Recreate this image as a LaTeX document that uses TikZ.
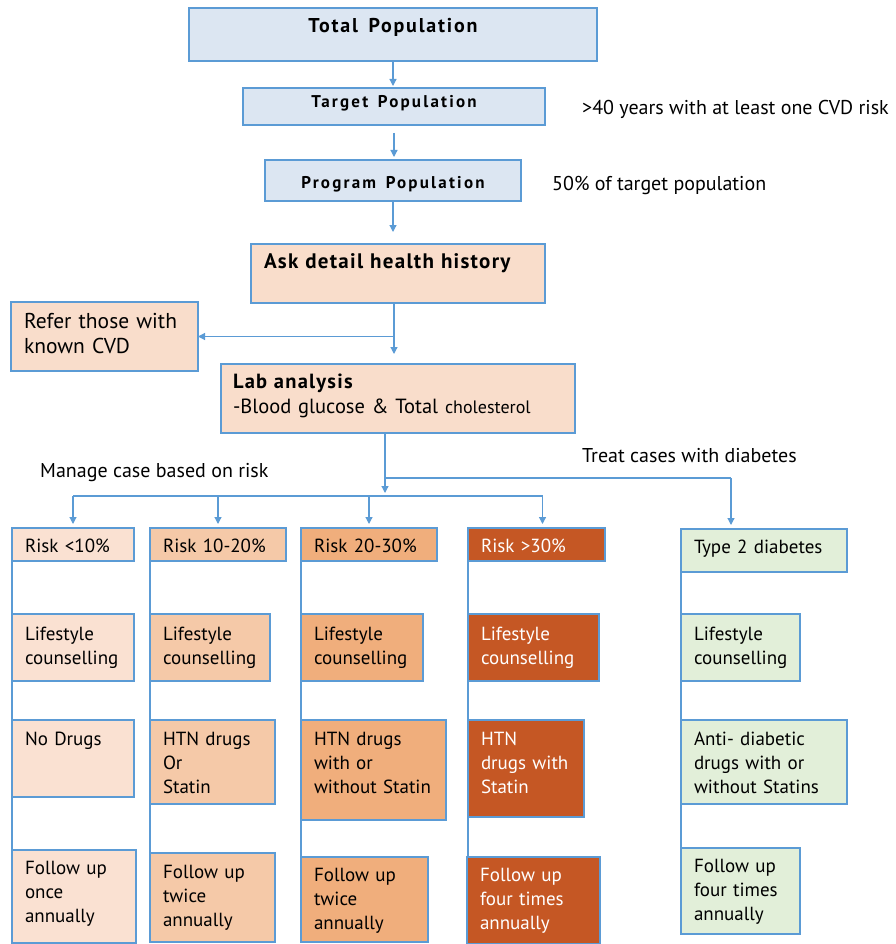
\documentclass[tikz,border=0pt]{standalone}
\usepackage{fontspec}
\setmainfont{PT Sans}
\usetikzlibrary{arrows.meta}

\definecolor{lineblue}{RGB}{91,155,213}
\definecolor{topblue}{RGB}{220,230,242}
\definecolor{peach}{RGB}{249,221,203}
\definecolor{lowrisk}{RGB}{250,225,210}
\definecolor{midrisk}{RGB}{245,201,168}
\definecolor{highrisk}{RGB}{240,174,124}
\definecolor{toprisk}{RGB}{197,87,36}
\definecolor{diabgreen}{RGB}{226,239,217}

\tikzset{
  box/.style={draw=lineblue, line width=1.2pt, anchor=north west, align=left,
    inner xsep=13pt, inner ysep=0pt, outer sep=0pt, text height=25pt,
    font=\fontsize{19}{24}\selectfont},
  head/.style={box, align=center, fill=topblue,
    font=\bfseries\fontsize{20}{22}\selectfont\addfontfeatures{LetterSpace=9}},
  smallhead/.style={head,
    font=\bfseries\fontsize{17}{20}\selectfont\addfontfeatures{LetterSpace=13}},
  line/.style={draw=lineblue, line width=1.2pt},
  arr/.style={line, -{Triangle[length=7pt,width=7pt]}},
  note/.style={anchor=base west, inner sep=0pt, font=\fontsize{20}{24}\selectfont},
}

\begin{document}
\begin{tikzpicture}[x=1pt, y=-1pt]
  \useasboundingbox (0,0) rectangle (895,944);

  % Populationen
  \node[head, text width=382pt, text height=25pt, text depth=28pt] (total) at (189,8) {Total\hspace{4pt} Population};
  \node[smallhead, text width=276pt, text height=20pt, text depth=17pt] (target) at (243,88) {Target\hspace{4pt} Population};
  \node[smallhead, text width=230pt, text height=29pt, text depth=12pt] (program) at (265,160) {Program\hspace{4pt} Population};
  \node[note] (agenote) at (582,115) {>40 years with at least one CVD risk};
  \node[note] (sharenote) at (552,190) {50\% of target population};

  % Anamnese und Labor
  \node[box, fill=peach, font=\bfseries\fontsize{21}{24}\selectfont\addfontfeatures{LetterSpace=6}, text width=268pt, text height=24pt, text depth=35pt] (ask) at (251,244) {Ask detail health history};
  \node[box, fill=peach, font=\fontsize{21.5}{25}\selectfont, text width=161pt, text height=26pt, text depth=43pt] (refer) at (11,302) {Refer those with\\known CVD};
  \node[box, fill=peach, font=\fontsize{20.5}{25}\selectfont, inner xsep=12pt, text width=330pt, text height=24pt, text depth=45pt] (lab) at (221,364)
    {{\bfseries\addfontfeatures{LetterSpace=6}Lab analysis}\\-Blood glucose \& Total {\fontsize{18}{25}\selectfont cholesterol}};
  \node[note] (treatnote) at (582,462) {Treat cases with diabetes};
  \node[note] (managenote) at (40,477) {Manage case based on risk};

  % Risikogruppen
  \node[box, fill=lowrisk, text width=96pt, text height=24pt, text depth=9pt] (r1) at (12,528) {Risk <10\%};
  \node[box, fill=midrisk, text width=110pt, text height=24pt, text depth=9pt] (r2) at (150,528) {Risk 10-20\%};
  \node[box, fill=highrisk, text width=110pt, text height=24pt, text depth=9pt] (r3) at (301,528) {Risk 20-30\%};
  \node[box, fill=toprisk, text=white, text width=111pt, text height=24pt, text depth=9pt] (r4) at (468,528) {Risk >30\%};
  \node[box, fill=diabgreen, text width=140pt, text height=24pt, text depth=19pt] (t2) at (681,529) {Type 2 diabetes};

  % Lebensstil
  \node[box, fill=lowrisk, text width=96pt, text height=26pt, text depth=41pt] (l1) at (12,614) {Lifestyle\\counselling};
  \node[box, fill=midrisk, text width=94pt, text height=26pt, text depth=41pt] (l2) at (150,614) {Lifestyle\\counselling};
  \node[box, fill=highrisk, text width=96pt, text height=26pt, text depth=41pt] (l3) at (301,614) {Lifestyle\\counselling};
  \node[box, fill=toprisk, text=white, text width=105pt, text height=26pt, text depth=41pt] (l4) at (468,614) {Lifestyle\\counselling};
  \node[box, fill=diabgreen, text width=93pt, text height=26pt, text depth=41pt] (l5) at (681,614) {Lifestyle\\counselling};

  % Medikamente
  \node[box, fill=lowrisk, text width=96pt, text depth=52pt] (d1) at (12,720) {No Drugs};
  \node[box, fill=midrisk, text width=99pt, text depth=59pt] (d2) at (150,720) {HTN drugs\\Or\\Statin};
  \node[box, fill=highrisk, text width=119pt, text depth=75pt] (d3) at (301,720) {HTN drugs\\with or\\without Statin};
  \node[box, fill=toprisk, text=white, text width=90pt, text depth=72pt] (d4) at (468,720) {HTN\\drugs with\\Statin};
  \node[box, fill=diabgreen, text width=140pt, text depth=59pt] (d5) at (681,720) {Anti- diabetic\\drugs with or\\without Statins};

  % Kontrollen
  \node[box, fill=lowrisk, text width=98pt, text height=24pt, text depth=69pt] (f1) at (12,850) {Follow up\\once\\annually};
  \node[box, fill=midrisk, text width=99pt, text height=25pt, text depth=64pt] (f2) at (150,853) {Follow up\\twice\\annually};
  \node[box, fill=highrisk, text width=101pt, text height=24pt, text depth=61pt] (f3) at (301,857) {Follow up\\twice\\annually};
  \node[box, fill=toprisk, text=white, text width=107pt, text height=24pt, text depth=63pt] (f4) at (467,857) {Follow up\\four times\\annually};
  \node[box, fill=diabgreen, text width=93pt, text height=24pt, text depth=62pt] (f5) at (681,848) {Follow up\\four times\\annually};

  % Pfeile oben
  \draw[arr, shorten >=2pt] (total.south) -- (total.south |- target.north);
  \draw[arr, shorten <=8pt, shorten >=3pt] (target.south) -- (target.south |- program.north);
  \draw[arr, shorten >=12pt] (program.south) -- (program.south |- ask.north);

  % Verweis und Labor
  \coordinate (askturn) at ([xshift=-4pt]ask.south |- refer.east);
  \draw[line] ([xshift=-4pt]ask.south) -- (askturn);
  \draw[arr] (askturn) -- (refer.east);
  \draw[arr, shorten >=10pt] (askturn) -- (askturn |- lab.north);

  % Verzweigung
  \coordinate (labout) at ([xshift=-13pt]lab.south);
  \coordinate (diabturn) at (731,478);
  \coordinate (riskbar) at (0,496);
  \draw[line] (labout |- diabturn) -- (diabturn);
  \draw[arr, shorten >=4pt] (diabturn) -- (diabturn |- t2.north);
  \draw[arr, shorten >=3pt] (labout) -- (labout |- riskbar);
  \draw[line] (r1.north |- riskbar) -- ([xshift=6pt]r4.north |- riskbar);
  \foreach \n in {r1,r2,r3}
    \draw[arr, shorten >=4pt] (\n.north |- riskbar) -- (\n.north);
  \draw[arr, shorten >=4pt] ([xshift=6pt]r4.north |- riskbar) -- ([xshift=6pt]r4.north);

  % Spalten
  \draw[line] (r1.south west) -- (f1.north west);
  \draw[line] (r2.south west) -- (f2.north west);
  \draw[line] (r3.south west) -- (f3.north west);
  \draw[line] (r4.south west) -- (r4.south west |- f4.north);
  \draw[line] (t2.south west) -- (f5.north west);
\end{tikzpicture}
\end{document}
